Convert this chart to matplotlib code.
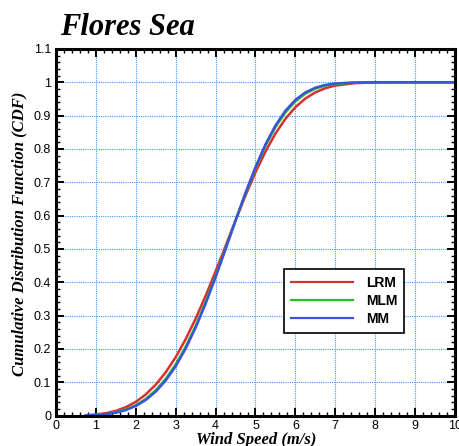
import matplotlib
matplotlib.use("Agg")
import matplotlib.pyplot as plt
from matplotlib.ticker import MultipleLocator

# Wind speed (m/s) and CDF values
# (below ~0.75 m/s the curves lie on the x axis and are hidden by it)
wind_speed = [0.75, 1.0, 1.25, 1.5, 1.75, 2.0, 2.25, 2.5, 2.75,
              3.0, 3.25, 3.5, 3.75, 4.0, 4.25, 4.5, 4.75, 5.0, 5.25, 5.5, 5.75,
              6.0, 6.25, 6.5, 6.75, 7.0, 7.5, 8.0, 8.5, 9.0, 9.5, 10.0]

cdf_lrm = [0.0011, 0.0031, 0.0072, 0.0142, 0.0252, 0.0412, 0.0634,
           0.0927, 0.1299, 0.1753, 0.2292, 0.2908, 0.3592, 0.4327, 0.5090, 0.5859,
           0.6603, 0.7298, 0.7922, 0.8460, 0.8904, 0.9252, 0.9513, 0.9698, 0.9823,
           0.9902, 0.9975, 0.9995, 0.9999, 1.0, 1.0, 1.0]

cdf_mlm = [0.0006, 0.0019, 0.0046, 0.0098, 0.0182, 0.0313, 0.0500,
           0.0760, 0.1101, 0.1534, 0.2066, 0.2691, 0.3404, 0.4185, 0.5012, 0.5852,
           0.6666, 0.7424, 0.8093, 0.8654, 0.9098, 0.9429, 0.9660, 0.9810, 0.9901,
           0.9952, 0.9991, 0.9999, 1.0, 1.0, 1.0, 1.0]

cdf_mm = [0.0005, 0.0016, 0.0040, 0.0087, 0.0165, 0.0288, 0.0467,
          0.0718, 0.1052, 0.1479, 0.2009, 0.2637, 0.3357, 0.4150, 0.4992, 0.5850,
          0.6682, 0.7455, 0.8136, 0.8703, 0.9147, 0.9473, 0.9697, 0.9838, 0.9920,
          0.9964, 0.9995, 1.0, 1.0, 1.0, 1.0, 1.0]

x_ticks = list(range(0, 11))
y_ticks = [0, 0.1, 0.2, 0.3, 0.4, 0.5, 0.6, 0.7, 0.8, 0.9, 1.0, 1.1]
y_tick_labels = ["0", "0.1", "0.2", "0.3", "0.4", "0.5", "0.6", "0.7", "0.8", "0.9", "1", "1.1"]

serif = "Liberation Serif"
sans = "Liberation Sans"

fig = plt.figure(figsize=(4.6, 4.46), dpi=100)
ax = fig.add_axes([0.1217, 0.0682, 0.8674, 0.822])

ax.plot(wind_speed, cdf_lrm, color="#d83030", lw=1.8, label="LRM", zorder=3)
ax.plot(wind_speed, cdf_mlm, color="#22c422", lw=1.8, label="MLM", zorder=4)
ax.plot(wind_speed, cdf_mm, color="#3a52dc", lw=1.8, label="MM", zorder=5)

ax.set_xlim(0, 10)
ax.set_ylim(0, 1.1)
ax.set_xticks(x_ticks)
ax.set_yticks(y_ticks)
ax.set_yticklabels(y_tick_labels)
ax.xaxis.set_minor_locator(MultipleLocator(0.2))
ax.yaxis.set_minor_locator(MultipleLocator(0.02))

ax.grid(True, which="major", color="#3d9bff", linestyle=(0, (1, 1)), lw=0.8)
ax.set_axisbelow(True)

ax.tick_params(which="both", direction="in", top=True, right=True)
ax.tick_params(which="major", length=6, width=1.4, labelsize=9, pad=3.5)
ax.tick_params(which="minor", length=3.2, width=1.0)
for lab in ax.get_xticklabels() + ax.get_yticklabels():
    lab.set_fontfamily(sans)
for sp in ax.spines.values():
    sp.set_linewidth(2.2)
    sp.set_zorder(8)

leg = ax.legend(loc="upper left", bbox_to_anchor=(0.571, 0.40), fancybox=False,
                edgecolor="black", framealpha=1, handlelength=4.5, handletextpad=0.9,
                labelspacing=0.3, borderpad=0.5, borderaxespad=0,
                prop={"family": sans, "weight": "bold", "size": 10})
leg.get_frame().set_linewidth(1.2)
leg.set_zorder(9)
for line in leg.get_lines():
    line.set_linewidth(1.6)

fig.text(60 / 460, 1 - 35 / 446, "Flores Sea", family=serif, weight="bold",
         style="italic", fontsize=22, ha="left", va="baseline")
fig.text(256 / 460, 2 / 446, "Wind Speed (m/s)", family=serif, weight="bold",
         style="italic", fontsize=12, ha="center", va="baseline")
fig.text(19 / 460, 1 - 234 / 446, "Cumulative Distribution Function (CDF)",
         family=serif, weight="bold", style="italic", fontsize=12,
         rotation=90, ha="center", va="center")

fig.savefig("out.png", dpi=100)
